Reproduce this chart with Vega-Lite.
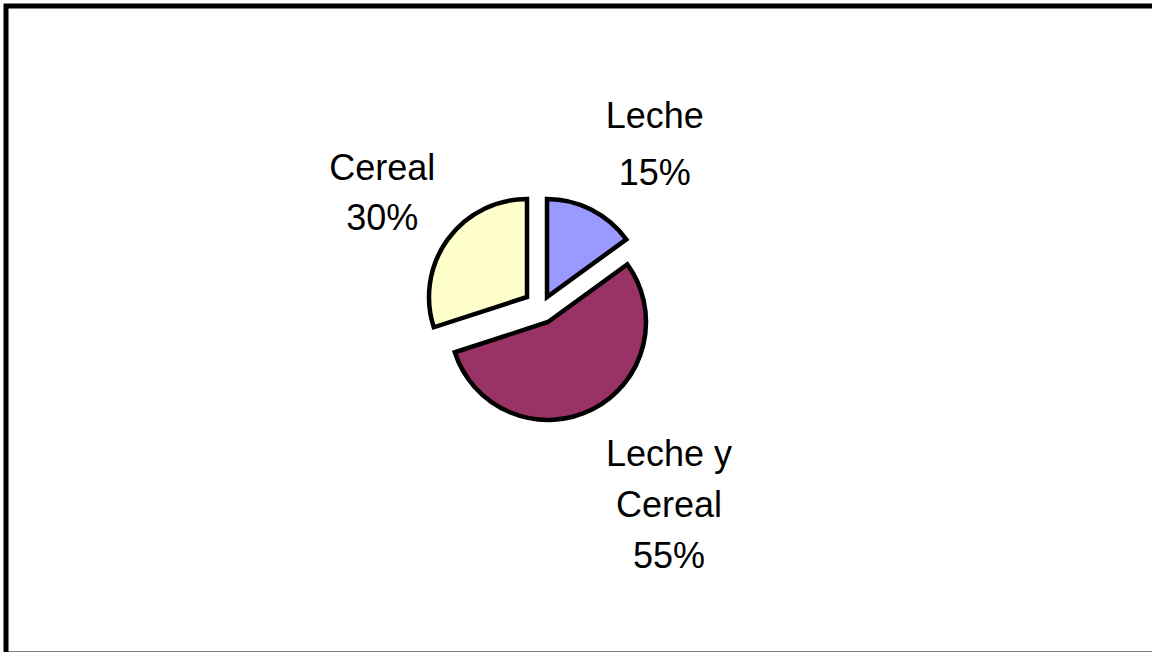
{
  "$schema": "https://vega.github.io/schema/vega-lite/v6.json",
  "autosize": "none",
  "width": 1150,
  "height": 648,
  "padding": {"left": 6, "top": 6, "right": -4, "bottom": -2},
  "background": "white",
  "view": {"stroke": "black", "strokeWidth": 5, "fill": "white"},
  "data": {
    "values": [
      {"cat": "Leche", "idx": 1, "value": 15, "label": ["Leche", "15%"]},
      {"cat": "Leche y Cereal", "idx": 2, "value": 55, "label": ["Leche y", "Cereal", "55%"]},
      {"cat": "Cereal", "idx": 3, "value": 30, "label": ["Cereal", "30%"]}
    ]
  },
  "encoding": {
    "theta": {"field": "value", "type": "quantitative", "stack": true, "scale": {"domain": [0, 100]}},
    "order": {"field": "idx", "type": "quantitative", "sort": "ascending"}
  },
  "layer": [
    {
      "mark": {"type": "arc", "radius": 98, "stroke": "black", "strokeWidth": 4.5, "strokeJoin": "miter", "xOffset": -34, "yOffset": -33},
      "encoding": {
        "fill": {"field": "cat", "type": "nominal", "legend": null, "scale": {"domain": ["Leche", "Leche y Cereal", "Cereal"], "range": ["#9999FF", "#993366", "#FFFFCC"]}},
        "opacity": {"condition": {"test": "datum.cat === 'Leche'", "value": 1}, "value": 0}
      }
    },
    {
      "mark": {"type": "arc", "radius": 98, "stroke": "black", "strokeWidth": 4.5, "strokeJoin": "miter", "xOffset": -33, "yOffset": -8},
      "encoding": {
        "fill": {"field": "cat", "type": "nominal", "legend": null},
        "opacity": {"condition": {"test": "datum.cat === 'Leche y Cereal'", "value": 1}, "value": 0}
      }
    },
    {
      "mark": {"type": "arc", "radius": 98, "stroke": "black", "strokeWidth": 4.5, "strokeJoin": "miter", "xOffset": -54, "yOffset": -33},
      "encoding": {
        "fill": {"field": "cat", "type": "nominal", "legend": null},
        "opacity": {"condition": {"test": "datum.cat === 'Cereal'", "value": 1}, "value": 0}
      }
    },
    {
      "mark": {"type": "text", "radius": 200, "dx": -17, "dy": -35, "font": "Liberation Sans", "fontSize": 36, "lineHeight": 57, "align": "center", "baseline": "middle", "color": "black"},
      "encoding": {
        "text": {"condition": {"test": "datum.cat === 'Leche'", "field": "label"}, "value": ""}
      }
    },
    {
      "mark": {"type": "text", "radius": 196, "dx": -1, "dy": -50, "font": "Liberation Sans", "fontSize": 36, "lineHeight": 51, "align": "center", "baseline": "middle", "color": "black"},
      "encoding": {
        "text": {"condition": {"test": "datum.cat === 'Leche y Cereal'", "field": "label"}, "value": ""}
      }
    },
    {
      "mark": {"type": "text", "radius": 242, "dx": -3, "dy": -19, "font": "Liberation Sans", "fontSize": 36, "lineHeight": 50, "align": "center", "baseline": "middle", "color": "black"},
      "encoding": {
        "text": {"condition": {"test": "datum.cat === 'Cereal'", "field": "label"}, "value": ""}
      }
    }
  ]
}
